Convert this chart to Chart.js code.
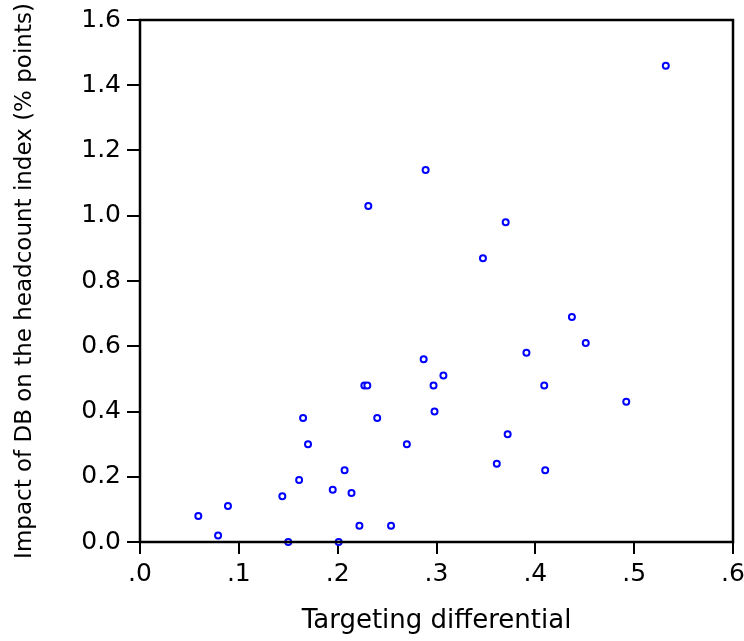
<!DOCTYPE html>
<html>
<head>
<meta charset="utf-8">
<script src="https://cdn.jsdelivr.net/npm/chart.js@4/dist/chart.umd.min.js"></script>
<style>
html,body{margin:0;padding:0;background:#fff;}
#wrap{width:744px;height:641px;}
</style>
</head>
<body>
<div id="wrap"><canvas id="c" width="744" height="641"></canvas></div>
<script>
// Data
const targetingDifferential = [0.532, 0.289, 0.231, 0.370, 0.347, 0.437, 0.451, 0.391, 0.287, 0.307,
  0.297, 0.227, 0.230, 0.409, 0.492, 0.298, 0.165, 0.240, 0.170, 0.270,
  0.372, 0.361, 0.207, 0.410, 0.161, 0.195, 0.214, 0.144, 0.089, 0.059,
  0.079, 0.222, 0.254, 0.150, 0.201];
const headcountImpact = [1.46, 1.14, 1.03, 0.98, 0.87, 0.69, 0.61, 0.58, 0.56, 0.51,
  0.48, 0.48, 0.48, 0.48, 0.43, 0.40, 0.38, 0.38, 0.30, 0.30,
  0.33, 0.24, 0.22, 0.22, 0.19, 0.16, 0.15, 0.14, 0.11, 0.08,
  0.02, 0.05, 0.05, 0.00, 0.00];
const xTickLabels = ['.0', '.1', '.2', '.3', '.4', '.5', '.6'];
const yTickLabels = ['0.0', '0.2', '0.4', '0.6', '0.8', '1.0', '1.2', '1.4', '1.6'];
const xTitle = 'Targeting differential';
const yTitle = 'Impact of DB on the headcount index (% points)';

const points = targetingDifferential.map((x, i) => ({x: x, y: headcountImpact[i]}));

const framePlugin = {
  id: 'frame',
  afterDatasetsDraw(chart) {
    const {ctx, chartArea: a} = chart;
    ctx.save();
    ctx.strokeStyle = '#000';
    ctx.lineWidth = 2.5;
    ctx.strokeRect(a.left, a.top, a.right - a.left, a.bottom - a.top);
    ctx.restore();
  }
};

const FONT = "'DejaVu Sans', 'Liberation Sans', Arial, sans-serif";

new Chart(document.getElementById('c'), {
  type: 'scatter',
  data: {
    datasets: [{
      data: points,
      pointStyle: 'circle',
      pointRadius: 3,
      pointHoverRadius: 3,
      pointBorderWidth: 2,
      borderColor: '#0000ff',
      backgroundColor: '#ffffff',
      clip: false
    }]
  },
  options: {
    responsive: false,
    animation: false,
    events: [],
    layout: {padding: {top: 20, right: 11, left: 0, bottom: 0}},
    plugins: {legend: {display: false}, tooltip: {enabled: false}},
    scales: {
      x: {
        type: 'linear',
        min: 0, max: 0.6,
        afterBuildTicks(s) { s.ticks = xTickLabels.map((t, i) => ({value: i / 10})); },
        afterFit(s) { s.height = 99; s.paddingLeft = 0; s.paddingRight = 0; },
        grid: {drawOnChartArea: false, drawTicks: true, tickLength: 12, color: '#000', lineWidth: 2},
        border: {display: false},
        ticks: {
          color: '#000',
          font: {family: FONT, size: 25},
          padding: 5,
          maxRotation: 0,
          autoSkip: false,
          callback: (v, i) => xTickLabels[i]
        },
        title: {
          display: true, text: xTitle, color: '#000',
          font: {family: FONT, size: 26},
          padding: {top: 0, bottom: 4}
        }
      },
      y: {
        type: 'linear',
        min: 0, max: 1.6,
        afterBuildTicks(s) { s.ticks = yTickLabels.map((t, i) => ({value: i * 0.2})); },
        afterFit(s) { s.width = 140; s.paddingTop = 0; s.paddingBottom = 0; },
        grid: {drawOnChartArea: false, drawTicks: true, tickLength: 13, color: '#000', lineWidth: 2},
        border: {display: false},
        ticks: {
          color: '#000',
          font: {family: FONT, size: 25},
          padding: 6,
          autoSkip: false,
          callback: (v, i) => yTickLabels[i]
        },
        title: {
          display: true, text: yTitle, color: '#000',
          font: {family: FONT, size: 23},
          padding: {top: 11, bottom: 0}
        }
      }
    }
  },
  plugins: [framePlugin]
});
</script>
</body>
</html>
